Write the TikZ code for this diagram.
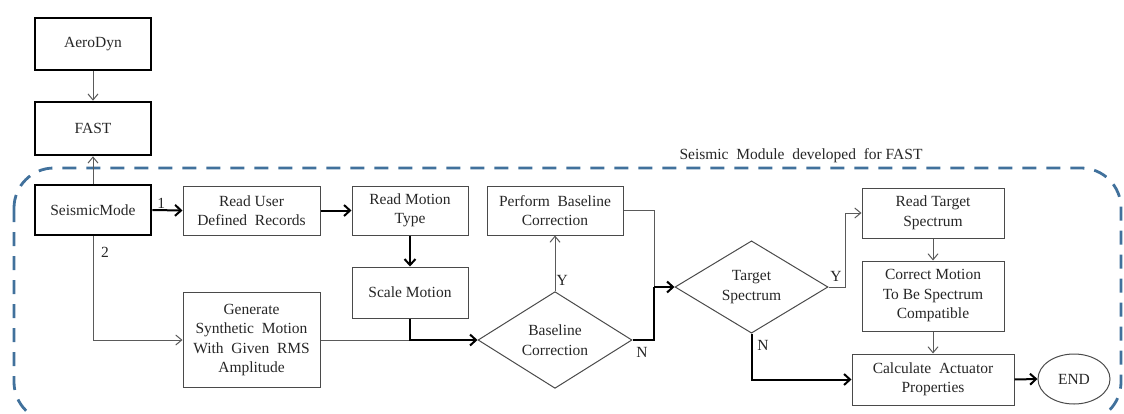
\documentclass[tikz,border=0pt]{standalone}
\usepackage{fontspec}
\setmainfont{Liberation Serif}
\usetikzlibrary{arrows.meta,shapes.geometric}
\definecolor{boxgray}{HTML}{4A4A4A}
\definecolor{linegray}{HTML}{5A5A5A}
\definecolor{dashblue}{HTML}{41719C}
\tikzset{
  every node/.style={font=\fontsize{15.5}{19.5}\selectfont, text=black!85, align=center},
  procbox/.style={draw=boxgray, line width=1pt, rectangle, inner sep=2pt},
  mainbox/.style={draw=black, line width=2.6pt, rectangle, inner sep=2pt},
  decision/.style={draw=boxgray, line width=1pt, diamond, inner sep=0pt},
  endbox/.style={draw=boxgray, line width=1pt, ellipse, inner sep=0pt},
  thinarrow/.style={draw=linegray, line width=1pt, -{Straight Barb[length=6pt,width=10pt]}},
  thinline/.style={draw=linegray, line width=1pt},
  thickarrow/.style={draw=black, line width=2pt, -{Straight Barb[length=6pt,width=11pt,line width=2pt]}},
  thickline/.style={draw=black, line width=2pt},
  lbl/.style={inner sep=1pt}
}
\begin{document}
\begin{tikzpicture}[x=1pt,y=-1pt]
\useasboundingbox (0,0) rectangle (1124,413);
\clip (0,0) rectangle (1124,413);
% dashed module boundary
\draw[dashblue, line width=2.8pt, dash pattern=on 14pt off 10pt, rounded corners=40pt] (14,168) rectangle (1121,422);
\node[lbl] (modlbl) at (801,156) {Seismic\ \ Module\ \ developed\ \ for\ FAST};
% nodes
\node[mainbox, minimum width=116pt, minimum height=52pt] (aero) at (93,44) {AeroDyn};
\node[mainbox, minimum width=116pt, minimum height=53pt] (fast) at (93,128.5) {FAST};
\node[mainbox, minimum width=116pt, minimum height=50pt] (seis) at (93,210) {SeismicMode};
\node[procbox, minimum width=137pt, minimum height=49pt] (rud) at (251.5,210.5) {Read User\\Defined\ \ Records};
\node[procbox, minimum width=116pt, minimum height=49pt] (rmt) at (410,210.5) {Read Motion\\Type};
\node[procbox, minimum width=116pt, minimum height=51pt] (scale) at (410,292.5) {Scale Motion};
\node[procbox, minimum width=137pt, minimum height=95pt] (gen) at (251.5,340) {Generate\\Synthetic\ \ Motion\\With\ \ Given\ \ RMS\\Amplitude};
\node[decision, minimum width=154pt, minimum height=92pt] (bc) at (555,340) {Baseline\\Correction};
\node[procbox, minimum width=136pt, minimum height=49pt] (pbc) at (555,210.5) {Perform\ \ Baseline\\Correction};
\node[decision, minimum width=153pt, minimum height=92pt] (ts) at (751.5,287) {Target\\Spectrum};
\node[procbox, minimum width=142pt, minimum height=50pt] (rts) at (933,213) {Read Target\\Spectrum};
\node[procbox, minimum width=142pt, minimum height=70pt] (cm) at (933,296) {Correct Motion\\To Be Spectrum\\Compatible};
\node[procbox, minimum width=162pt, minimum height=51pt] (calc) at (933,379.5) {Calculate\ \ Actuator\\Properties};
\node[endbox, minimum width=72pt, minimum height=50pt] (end) at (1074,379) {END};
\coordinate (jn) at (654,287);
% connectors
\draw[thinarrow] (aero.south) -- (fast.north);
\draw[thinarrow] (seis.north) -- (fast.south);
\draw[thickarrow] (seis.east) -- node[lbl, above, pos=0.3] (l1) {1} (rud.west);
\draw[thickarrow] (rud.east) -- (rmt.west);
\draw[thickarrow] (rmt.south) -- (scale.north);
\draw[thinarrow] (seis.south) -- (seis.south |- gen.west) -- (gen.west);
\node[lbl] (l2) at (105,252) {2};
\draw[thinline] (gen.east) -- (scale.south |- gen.east);
\draw[thickarrow] (scale.south) -- (scale.south |- bc.west) -- (bc.west);
\draw[thinarrow] (bc.north) -- node[lbl, right, pos=0.2] (ly1) {Y} (pbc.south);
\draw[thinline] (pbc.east) -- (pbc.east -| jn) -- (jn);
\draw[thickline] (bc.east) -- (bc.east -| jn) -- (jn);
\node[lbl] (ln1) at (642,352) {N};
\draw[thickarrow] (jn) -- (ts.west);
\draw[thinarrow] (ts.east) -- (845,287) -- (845,213) -- (rts.west);
\node[lbl] (ly2) at (836,276) {Y};
\draw[thinarrow] (rts.south) -- (cm.north);
\draw[thinarrow] (cm.south) -- (calc.north);
\draw[thickarrow] (ts.south) -- (ts.south |- calc.west) -- (calc.west);
\node[lbl] (ln2) at (763,345) {N};
\draw[thickarrow] (calc.east) -- (end.west);
\end{tikzpicture}
\end{document}
